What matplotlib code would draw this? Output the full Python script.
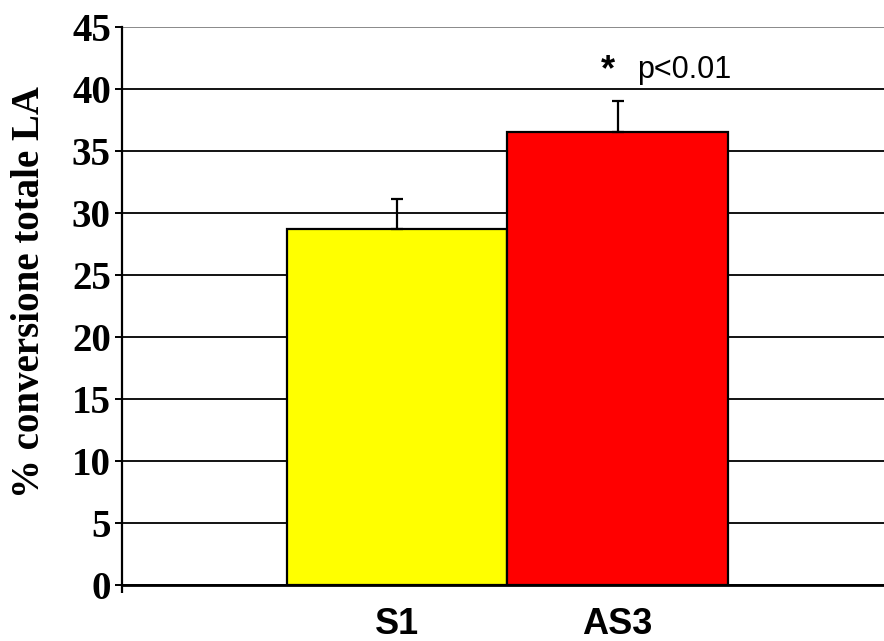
import numpy as np
import matplotlib
matplotlib.use("Agg")
import matplotlib.pyplot as plt

# Group means and upper error (SD) for total LA conversion
groups = ["S1", "AS3"]
values = [28.7, 36.5]
errors = [2.4, 2.5]
colors = ["#ffff00", "#ff0000"]
yticks = list(range(0, 50, 5))

fig = plt.figure(figsize=(8.84, 6.41), dpi=100)
ax = fig.add_axes([0.138, 0.0874, 0.862, 0.8706])

x = np.arange(len(groups))
ax.bar(x, values, width=1.0, color=colors, edgecolor="black", linewidth=1.6, zorder=2)
ax.errorbar(x, values, yerr=[np.zeros(len(errors)), errors], fmt="none",
            ecolor="black", elinewidth=1.6, capsize=4, capthick=1.6, zorder=3)

ax.set_xlim(-1.25, 2.21)
ax.set_ylim(0, 45)
ax.set_yticks(yticks)
ax.set_yticklabels([str(t) for t in yticks], fontfamily="Liberation Serif",
                   fontweight="bold", fontsize=28)
ax.set_xticks(x)
ax.set_xticklabels(groups, fontfamily="Liberation Sans", fontweight="bold", fontsize=26)
ax.set_xticks([-1.25], minor=True)
ax.tick_params(axis="x", which="major", length=0, pad=16)
ax.tick_params(axis="x", which="minor", length=6, width=1.6, direction="out")
ax.tick_params(axis="y", length=5, width=1.4, direction="out", pad=3)

# horizontal gridlines behind the bars; the top one is grey
ax.set_axisbelow(True)
ax.yaxis.grid(True, color="black", linewidth=1.3)
ax.get_ygridlines()[-1].set_color("#808080")

for side in ["top", "right"]:
    ax.spines[side].set_visible(False)
ax.spines["left"].set_linewidth(1.6)
ax.spines["bottom"].set_linewidth(2.0)

fig.text(30 / 884, 1 - 292 / 641, "% conversione totale LA", rotation=90,
         ha="center", va="center", fontfamily="Liberation Serif",
         fontweight="bold", fontsize=28)

# significance marker above AS3
ax.annotate("*", xy=(x[1], values[1] + errors[1]), xytext=(-7, 22),
            textcoords="offset points", ha="center", va="center",
            fontfamily="Liberation Sans", fontweight="bold", fontsize=26)
ax.annotate("p<0.01", xy=(x[1], values[1] + errors[1]), xytext=(14, 17),
            textcoords="offset points", ha="left", va="baseline",
            fontfamily="Liberation Sans", fontsize=22)

fig.savefig("out.png", dpi=100)
